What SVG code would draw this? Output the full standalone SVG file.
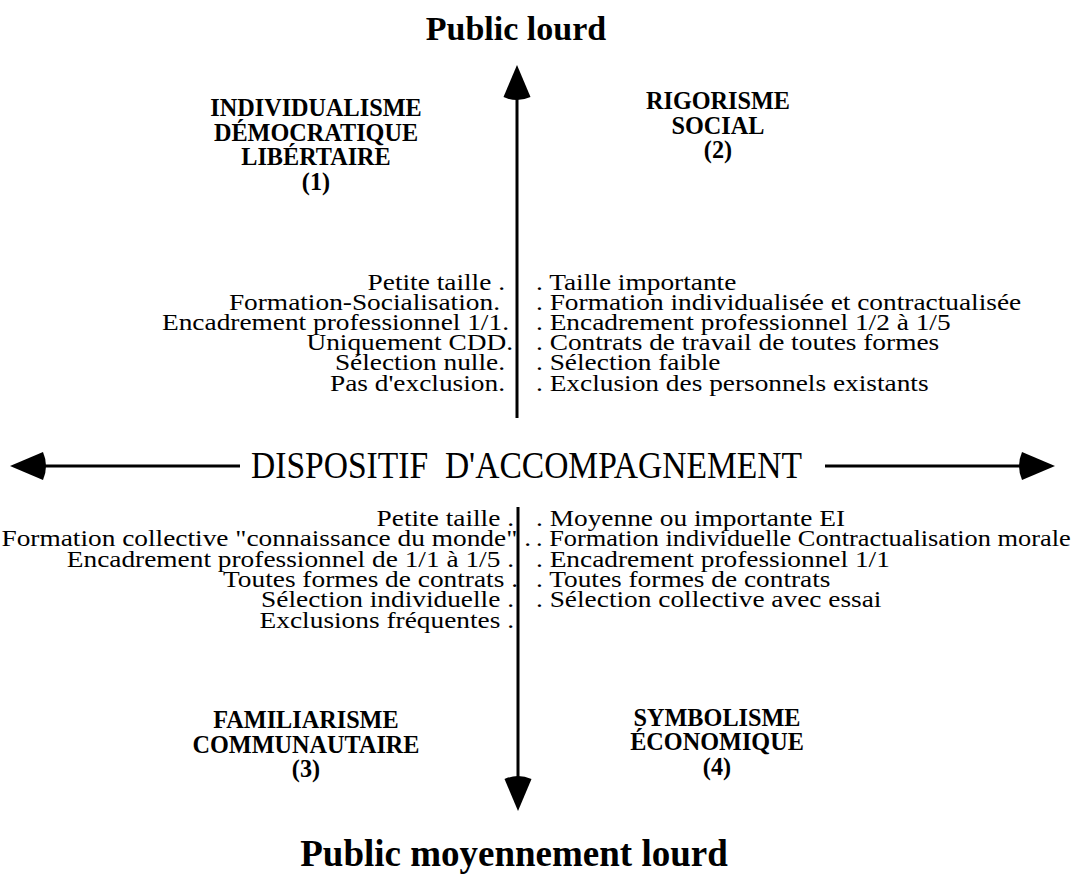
<svg xmlns="http://www.w3.org/2000/svg" width="1080" height="877" viewBox="0 0 1080 877">
<style>
  .title { font-family: "Liberation Serif", serif; font-weight: bold; font-size: 34px; fill: #000; text-anchor: middle; }
  .head { font-family: "Liberation Serif", serif; font-weight: bold; font-size: 25px; fill: #000; text-anchor: middle; }
  .item { font-family: "Liberation Serif", serif; font-size: 24px; fill: #000; }
  .end { text-anchor: end; }
  .axis { font-family: "Liberation Serif", serif; font-size: 38px; fill: #000; }
  .line { stroke: #000; stroke-width: 3; fill: none; }
  .head-fill { fill: #000; stroke: none; }
</style>
<rect width="1080" height="877" fill="#fff"/>

<g id="connectors">
  <line class="line" x1="517" y1="99" x2="517" y2="418"/>
  <path class="head-fill" d="M517,65 L530.5,97 Q517,103 503.5,97 Z"/>
  <line class="line" x1="518" y1="507" x2="518" y2="777"/>
  <path class="head-fill" d="M518,811 L504.5,779 Q518,773 531.5,779 Z"/>
  <line class="line" x1="45" y1="466" x2="240" y2="466"/>
  <path class="head-fill" d="M10,466 L43,452 Q49,466 43,480 Z"/>
  <line class="line" x1="825" y1="466" x2="1020" y2="466"/>
  <path class="head-fill" d="M1055,466 L1022,452 Q1016,466 1022,480 Z"/>
</g>

<g id="title-top"><text class="title" x="516" y="40">Public lourd</text></g>
<g id="title-bottom"><text class="title" x="514" y="866" style="font-size:37px">Public moyennement lourd</text></g>
<g id="axis-label"><text class="axis" x="251" y="478" textLength="551" lengthAdjust="spacingAndGlyphs">DISPOSITIF&#160; D'ACCOMPAGNEMENT</text></g>

<g id="q1" transform="scale(0.97,1)">
  <text class="head" x="325.77" y="116">INDIVIDUALISME</text>
  <text class="head" x="325.77" y="141">DÉMOCRATIQUE</text>
  <text class="head" x="325.77" y="165">LIBÉRTAIRE</text>
  <text class="head" x="325.77" y="190">(1)</text>
</g>
<g id="q2" transform="scale(0.97,1)">
  <text class="head" x="740.21" y="109">RIGORISME</text>
  <text class="head" x="740.21" y="134">SOCIAL</text>
  <text class="head" x="740.21" y="158">(2)</text>
</g>
<g id="q3" transform="scale(0.97,1)">
  <text class="head" x="315.46" y="728">FAMILIARISME</text>
  <text class="head" x="315.46" y="753">COMMUNAUTAIRE</text>
  <text class="head" x="315.46" y="777">(3)</text>
</g>
<g id="q4" transform="scale(0.97,1)">
  <text class="head" x="739.18" y="726">SYMBOLISME</text>
  <text class="head" x="739.18" y="750">ÉCONOMIQUE</text>
  <text class="head" x="739.18" y="775">(4)</text>
</g>

<g id="list-upper-left" transform="scale(1.14,1)">
  <text class="item end" x="442.98" y="290">Petite taille .</text>
  <text class="item end" x="438.6" y="310">Formation-Socialisation.</text>
  <text class="item end" x="446.49" y="330">Encadrement professionnel 1/1.</text>
  <text class="item end" x="450" y="350">Uniquement CDD.</text>
  <text class="item end" x="442.98" y="370">Sélection nulle.</text>
  <text class="item end" x="442.98" y="391">Pas d'exclusion.</text>
</g>
<g id="list-upper-right" transform="scale(1.14,1)">
  <text class="item" x="470.18" y="290">. Taille importante</text>
  <text class="item" x="470.18" y="310">. Formation individualisée et contractualisée</text>
  <text class="item" x="470.18" y="330">. Encadrement professionnel 1/2 à 1/5</text>
  <text class="item" x="470.18" y="350">. Contrats de travail de toutes formes</text>
  <text class="item" x="470.18" y="370">. Sélection faible</text>
  <text class="item" x="470.18" y="391">. Exclusion des personnels existants</text>
</g>
<g id="list-lower-left" transform="scale(1.14,1)">
  <text class="item end" x="450.88" y="526">Petite taille .</text>
  <text class="item end" x="465.79" y="546">Formation collective "connaissance du monde" .</text>
  <text class="item end" x="450.88" y="567">Encadrement professionnel de 1/1 à 1/5 .</text>
  <text class="item end" x="454.39" y="587">Toutes formes de contrats .</text>
  <text class="item end" x="450.88" y="607">Sélection individuelle .</text>
  <text class="item end" x="450.88" y="628">Exclusions fréquentes .</text>
</g>
<g id="list-lower-right" transform="scale(1.14,1)">
  <text class="item" x="470.18" y="526">. Moyenne ou importante EI</text>
  <text class="item" x="470.18" y="546" textLength="469" lengthAdjust="spacingAndGlyphs">. Formation individuelle Contractualisation morale</text>
  <text class="item" x="470.18" y="567">. Encadrement professionnel 1/1</text>
  <text class="item" x="470.18" y="587">. Toutes formes de contrats</text>
  <text class="item" x="470.18" y="607">. Sélection collective avec essai</text>
</g>
</svg>
